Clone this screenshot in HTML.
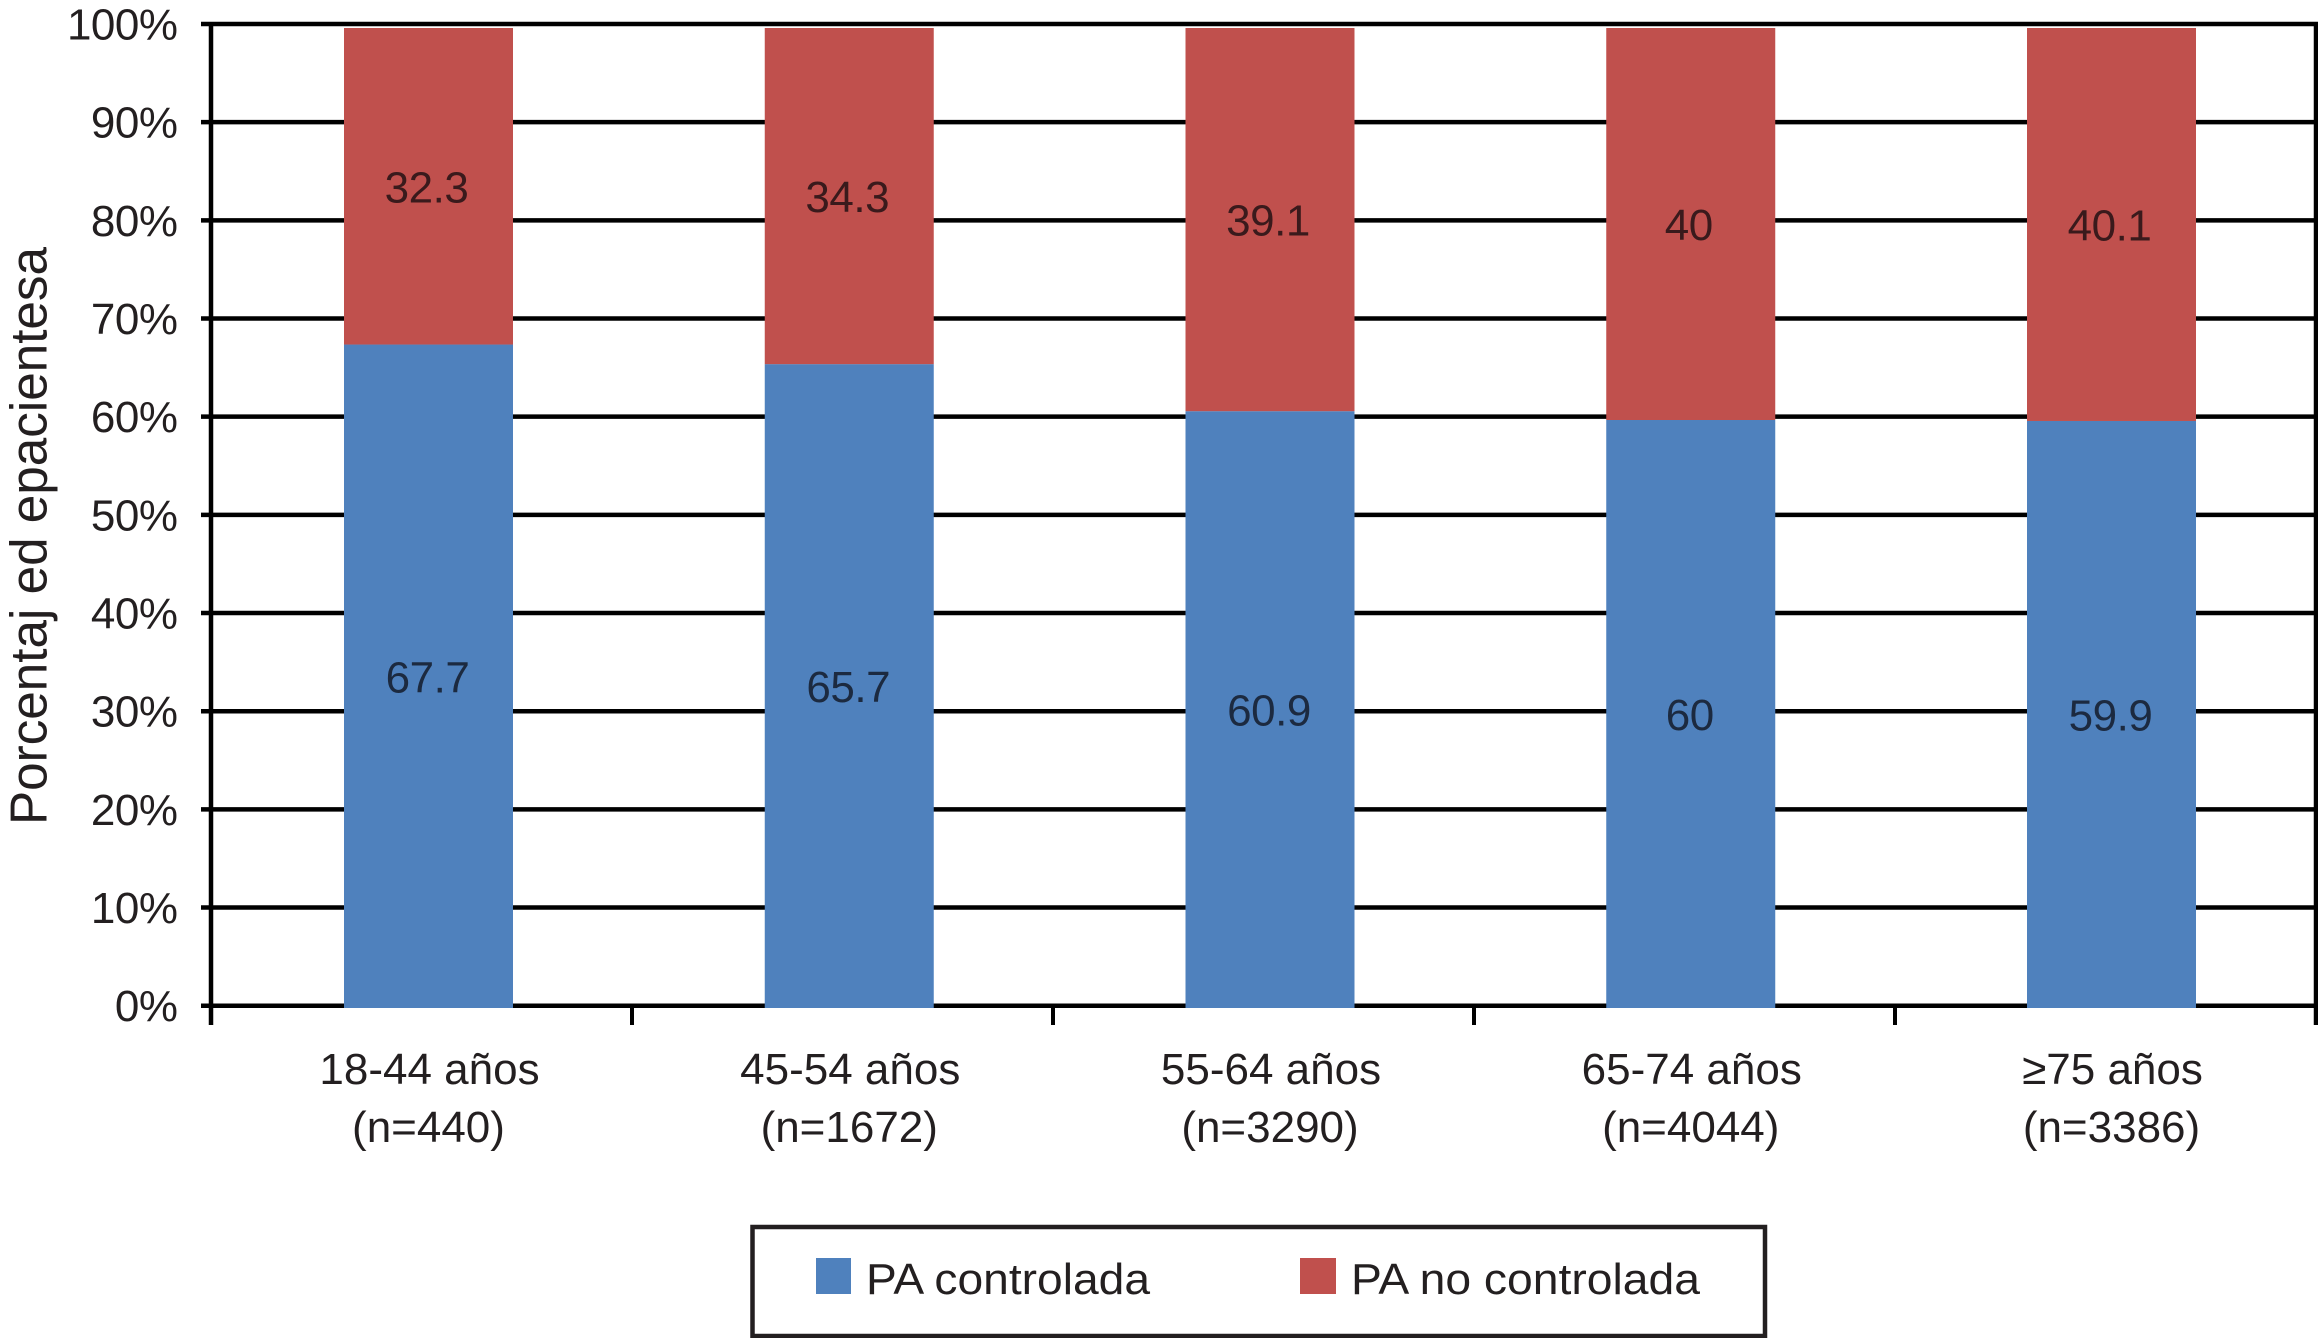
<!DOCTYPE html>
<html lang="es">
<head>
<meta charset="utf-8">
<title>PA controlada por grupo de edad</title>
<style>
  html, body { margin: 0; padding: 0; background: #fff; }
  svg { display: block; }
  text { font-family: "Liberation Sans", sans-serif; font-size: 44px; fill: #231f20; }
</style>
</head>
<body>
<svg id="chart" xmlns="http://www.w3.org/2000/svg" width="2318" height="1338" viewBox="0 0 2318 1338">
  <rect x="0" y="0" width="2318" height="1338" fill="#fff"/>
  <g id="grid"></g>
  <g id="bars"></g>
  <g id="axes"></g>
  <g id="ylabels"></g>
  <g id="xlabels"></g>
  <g id="values"></g>
  <text transform="translate(46.5,825) rotate(-90)" x="0" y="0" textLength="578" lengthAdjust="spacingAndGlyphs" style="font-size:52px">Porcentaj ed epacientesa</text>
  <g>
    <rect x="752.5" y="1227" width="1012.5" height="109" fill="#fff" stroke="#231f20" stroke-width="4.5"/>
    <rect x="816" y="1258" width="35" height="36" fill="#4f81bd"/>
    <text x="866" y="1294" textLength="284" lengthAdjust="spacingAndGlyphs">PA controlada</text>
    <rect x="1300" y="1258" width="36" height="36" fill="#c0504d"/>
    <text x="1351" y="1294" textLength="349" lengthAdjust="spacingAndGlyphs">PA no controlada</text>
  </g>
</svg>
<script>
const ageGroups = ["18-44 años", "45-54 años", "55-64 años", "65-74 años", "≥75 años"];
const sampleSizes = ["(n=440)", "(n=1672)", "(n=3290)", "(n=4044)", "(n=3386)"];
const controlled = [67.7, 65.7, 60.9, 60, 59.9];
const uncontrolled = [32.3, 34.3, 39.1, 40, 40.1];
const yTicks = [0, 10, 20, 30, 40, 50, 60, 70, 80, 90, 100];

const NS = "http://www.w3.org/2000/svg";
const plotLeft = 211, plotRight = 2316;
const bandW = (plotRight - plotLeft) / ageGroups.length;
const barW = 169;
const gridY = v => 1005.7 - v * 9.817;
const barY = v => 1008 - v * 9.8;
const bandX = i => plotLeft + bandW * i;
const barCx = i => 428.5 + (bandW - 0.25) * i;

function make(tag, attrs, parent, content) {
  const el = document.createElementNS(NS, tag);
  for (const k in attrs) el.setAttribute(k, attrs[k]);
  if (content !== undefined) el.textContent = content;
  parent.appendChild(el);
  return el;
}
const gGrid = document.getElementById("grid");
const gBars = document.getElementById("bars");
const gAxes = document.getElementById("axes");
const gY = document.getElementById("ylabels");
const gX = document.getElementById("xlabels");
const gV = document.getElementById("values");

yTicks.forEach(t => {
  const line = make("line", {x1: 201, x2: plotRight + 2, y1: gridY(t), y2: gridY(t), stroke: "#000", "stroke-width": 4.5}, gGrid);
  
  
  const label = make("text", {x: 177.5, y: gridY(t) + 15.5, "text-anchor": "end", style: "letter-spacing:-0.5px"}, gY, t + "%");
  
  
});

ageGroups.forEach((name, i) => {
  const cx = barCx(i);
  const blueTop = barY(controlled[i]);
  const redTop = barY(controlled[i] + uncontrolled[i]);
  const blue = make("rect", {x: cx - barW / 2, y: blueTop, width: barW, height: barY(0) - blueTop, fill: "#4f81bd"}, gBars);
  
  
  const red = make("rect", {x: cx - barW / 2, y: redTop, width: barW, height: blueTop - redTop, fill: "#c0504d"}, gBars);
  
  

  const v1 = make("text", {x: cx - 1, y: (blueTop + barY(0)) / 2 + 16, "text-anchor": "middle", style: "fill:#1c2a40;letter-spacing:-0.5px"}, gV, String(controlled[i]));
  
  
  const v2 = make("text", {x: cx - 2, y: (redTop + blueTop) / 2 + 16, "text-anchor": "middle", style: "fill:#3a1a1c;letter-spacing:-0.5px"}, gV, String(uncontrolled[i]));
  
  

  const l1 = make("text", {x: cx + 1, y: 1084, "text-anchor": "middle"}, gX, name);
  
  
  const l2 = make("text", {x: cx, y: 1142, "text-anchor": "middle"}, gX, sampleSizes[i]);
  
  
});

const axisLeft = make("line", {x1: plotLeft, x2: plotLeft, y1: 22, y2: 1025, stroke: "#000", "stroke-width": 4.5}, gAxes);


const axisRight = make("line", {x1: plotRight, x2: plotRight, y1: 22, y2: 1025, stroke: "#000", "stroke-width": 4.5}, gAxes);


for (let i = 1; i < ageGroups.length; i++) {
  const tick = make("line", {x1: bandX(i), x2: bandX(i), y1: 1006, y2: 1025, stroke: "#000", "stroke-width": 4}, gAxes);
  
  
}
</script>
</body>
</html>
